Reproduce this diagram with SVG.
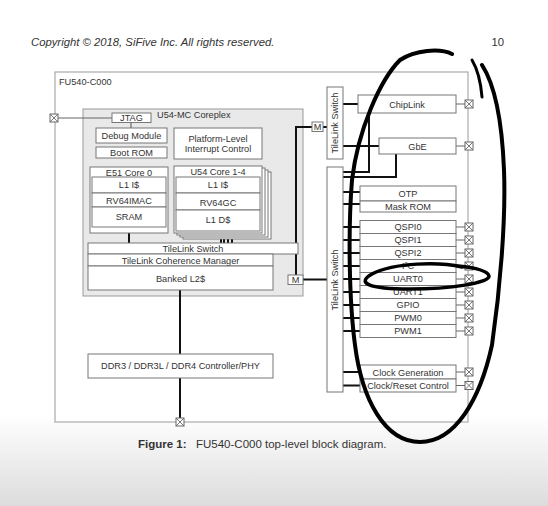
<svg xmlns="http://www.w3.org/2000/svg" width="548" height="506" viewBox="0 0 548 506">
<defs>
<linearGradient id="bg" x1="0" y1="0" x2="0" y2="1">
<stop offset="0" stop-color="#ffffff"/>
<stop offset="1" stop-color="#dcdcdc"/>
</linearGradient>
<symbol id="pad" viewBox="0 0 8 8" overflow="visible">
<rect x="0" y="0" width="8" height="8" fill="#fff" stroke="#666" stroke-width="1"/>
<path d="M0,0 L8,8 M8,0 L0,8" stroke="#666" stroke-width="0.9"/>
</symbol>
</defs>
<style>
text{font-family:"Liberation Sans",Arial,sans-serif;fill:#333;font-size:9.2px}
.c{text-anchor:middle}
.box{fill:#fff;stroke:#777;stroke-width:1}
.bus{stroke:#111;stroke-width:2;fill:none}
.thin{stroke:#666;stroke-width:1.2;fill:none}
.ink{stroke:#000;fill:none;stroke-linecap:round;stroke-linejoin:round}
</style>
<rect x="0" y="0" width="548" height="506" fill="#fff"/>
<rect x="0" y="415" width="548" height="91" fill="url(#bg)"/>

<text x="31" y="46" style="font-style:italic;font-size:11.3px">Copyright © 2018, SiFive Inc. All rights reserved.</text>
<text x="504" y="46" style="font-size:11.3px;text-anchor:end">10</text>

<g id="fu540">
<rect x="55" y="72" width="413" height="350" fill="#fff" stroke="#aaa" stroke-width="1.2"/>
<text x="59" y="85">FU540-C000</text>
</g>
<g id="coreplex">
<rect x="83" y="109" width="220" height="187" fill="#e9e9e9" stroke="#999" stroke-width="1"/>
<text x="157" y="118">U54-MC Coreplex</text>
</g>

<g id="connectors">
<path class="thin" d="M58,118 H112 M131,122 V128"/>
<path class="bus" d="M129,233 V243 M221,233 V243 M224,235 V243 M228,237 V243 M232,239 V243"/>
<path class="bus" d="M180,290 V354 M180,378 V418"/>
<path class="bus" d="M323,127 H327 M312,127 H296 V275 M303,279.5 H327"/>
<path class="bus" d="M343,104 H358 M343,146 H379 M369,113 V172 H343 M396,154 V177 H343"/>
<path class="bus" d="M343,192 H360 M343,204 H360 M343,227 H360 M343,240 H360 M343,253 H360 M343,266 H360 M343,279 H360 M343,292 H360 M343,305 H360 M343,318 H360 M343,331 H360 M343,372 H360 M343,385.5 H360"/>
<path class="thin" d="M456,104 H465 M456,146 H465 M456,227 H465 M456,240 H465 M456,253 H465 M456,266 H465 M456,279 H465 M456,292 H465 M456,305 H465 M456,318 H465 M456,331 H465 M456,372 H465 M456,385.5 H465"/>
</g>

<g id="jtag"><rect class="box" x="112" y="113" width="39" height="9.5"/><text class="c" x="131.5" y="121">JTAG</text></g>
<g id="debug"><rect class="box" x="96" y="128" width="71" height="15"/><text class="c" x="131.5" y="139">Debug Module</text></g>
<g id="bootrom"><rect class="box" x="96" y="147" width="71" height="11"/><text class="c" x="131.5" y="156">Boot ROM</text></g>
<g id="plic"><rect class="box" x="174" y="128" width="88" height="31"/><text class="c" x="218" y="142">Platform-Level</text><text class="c" x="218" y="152">Interrupt Control</text></g>

<g id="e51">
<rect class="box" x="90" y="167" width="78" height="66"/>
<text class="c" x="129" y="176">E51 Core 0</text>
<rect class="box" x="92" y="177" width="74" height="16"/><text class="c" x="129" y="188">L1 I$</text>
<rect class="box" x="92" y="193" width="74" height="14"/><text class="c" x="129" y="203.5">RV64IMAC</text>
<rect class="box" x="92" y="207" width="74" height="20"/><text class="c" x="129" y="220">SRAM</text>
</g>

<g id="u54">
<rect class="box" x="183" y="172" width="88" height="67"/>
<rect class="box" x="180" y="170" width="88" height="67"/>
<rect class="box" x="177" y="168" width="88" height="67"/>
<rect class="box" x="174" y="166" width="88" height="67"/>
<text class="c" x="218" y="175">U54 Core 1-4</text>
<rect class="box" x="176" y="177" width="84" height="16"/><text class="c" x="218" y="188">L1 I$</text>
<rect class="box" x="176" y="193" width="84" height="17"/><text class="c" x="218" y="205.5">RV64GC</text>
<rect class="box" x="176" y="210" width="84" height="21"/><text class="c" x="218" y="223">L1 D$</text>
</g>

<g id="tl-switch-core"><rect class="box" x="88" y="243" width="210" height="11"/><text class="c" x="193" y="252">TileLink Switch</text></g>
<g id="coherence"><rect class="box" x="88" y="254" width="185" height="12"/><text class="c" x="180.5" y="263.5">TileLink Coherence Manager</text></g>
<g id="l2"><rect class="box" x="88" y="266" width="185" height="24"/><text class="c" x="180.5" y="282">Banked L2$</text></g>
<g id="ddr"><rect class="box" x="88" y="354" width="185" height="24"/><text class="c" x="180.5" y="369">DDR3 / DDR3L / DDR4 Controller/PHY</text></g>

<g id="m-upper"><rect class="box" x="312" y="122" width="11" height="9.5"/><text class="c" x="317.5" y="130">M</text></g>
<g id="m-lower"><rect class="box" x="288" y="275" width="15" height="9.5"/><text class="c" x="295.5" y="283">M</text></g>

<g id="tl-switch-upper"><rect class="box" x="327" y="87" width="16" height="72"/><text class="c" transform="translate(338.3,123) rotate(-90)">TileLink Switch</text></g>
<g id="tl-switch-lower"><rect class="box" x="327" y="167" width="16" height="225"/><text class="c" transform="translate(338.3,280) rotate(-90)">TileLink Switch</text></g>

<g id="chiplink"><rect class="box" x="358" y="95" width="98" height="18"/><text class="c" x="407" y="107.5">ChipLink</text></g>
<g id="gbe"><rect class="box" x="379" y="138" width="77" height="16"/><text class="c" x="417.5" y="149.5">GbE</text></g>
<g id="otp"><rect class="box" x="360" y="186" width="96" height="15"/><text class="c" x="408" y="197">OTP</text></g>
<g id="maskrom"><rect class="box" x="360" y="201" width="96" height="11"/><text class="c" x="408" y="210">Mask ROM</text></g>
<g id="qspi0"><rect class="box" x="360" y="220.5" width="96" height="13"/><text class="c" x="408" y="230.3">QSPI0</text></g>
<g id="qspi1"><rect class="box" x="360" y="233.5" width="96" height="13"/><text class="c" x="408" y="243.3">QSPI1</text></g>
<g id="qspi2"><rect class="box" x="360" y="246.5" width="96" height="13"/><text class="c" x="408" y="256.3">QSPI2</text></g>
<g id="i2c"><rect class="box" x="360" y="259.5" width="96" height="13"/><text class="c" x="408" y="269.3">I²C</text></g>
<g id="uart0"><rect class="box" x="360" y="272.5" width="96" height="13"/><text class="c" x="408" y="282.3">UART0</text></g>
<g id="uart1"><rect class="box" x="360" y="285.5" width="96" height="13"/><text class="c" x="408" y="295.3">UART1</text></g>
<g id="gpio"><rect class="box" x="360" y="298.5" width="96" height="13"/><text class="c" x="408" y="308.3">GPIO</text></g>
<g id="pwm0"><rect class="box" x="360" y="311.5" width="96" height="13"/><text class="c" x="408" y="321.3">PWM0</text></g>
<g id="pwm1"><rect class="box" x="360" y="324.5" width="96" height="13"/><text class="c" x="408" y="334.3">PWM1</text></g>
<g id="clockgen"><rect class="box" x="360" y="365" width="96" height="14"/><text class="c" x="408" y="375.5">Clock Generation</text></g>
<g id="clockreset"><rect class="box" x="360" y="379" width="96" height="13"/><text class="c" x="408" y="389">Clock/Reset Control</text></g>

<g id="pads">
<use href="#pad" x="50" y="114" width="8" height="8"/>
<use href="#pad" x="176" y="418" width="8" height="8"/>
<use href="#pad" x="465" y="100" width="8" height="8"/>
<use href="#pad" x="465" y="142" width="8" height="8"/>
<use href="#pad" x="465" y="223" width="8" height="8"/>
<use href="#pad" x="465" y="236" width="8" height="8"/>
<use href="#pad" x="465" y="249" width="8" height="8"/>
<use href="#pad" x="465" y="262" width="8" height="8"/>
<use href="#pad" x="465" y="275" width="8" height="8"/>
<use href="#pad" x="465" y="288" width="8" height="8"/>
<use href="#pad" x="465" y="301" width="8" height="8"/>
<use href="#pad" x="465" y="314" width="8" height="8"/>
<use href="#pad" x="465" y="327" width="8" height="8"/>
<use href="#pad" x="465" y="368" width="8" height="8"/>
<use href="#pad" x="465" y="381.5" width="8" height="8"/>
</g>

<g id="caption">
<text x="138" y="448" style="font-size:11.5px;font-weight:bold">Figure 1:</text>
<text x="196" y="448" style="font-size:11.5px">FU540-C000 top-level block diagram.</text>
</g>

<g id="annotation">
<path class="ink" stroke-width="4" d="M452,54 C440,48 415,50 400,60 C380,80 358,130 352,180 C348,230 349,300 355,345 C362,400 385,442 420,442 C455,442 480,400 492,345 C500,290 506,220 504,170 C502,120 495,85 482,65"/>
<path class="ink" stroke-width="3" d="M472,60 C478,70 481,85 482,97"/>
<path class="ink" stroke-width="3.5" d="M462,267 C440,262 395,262 372,274 C356,283 368,289 410,289 C450,289 490,283 489,276 C488,271 478,268 458,266"/>
</g>
</svg>
